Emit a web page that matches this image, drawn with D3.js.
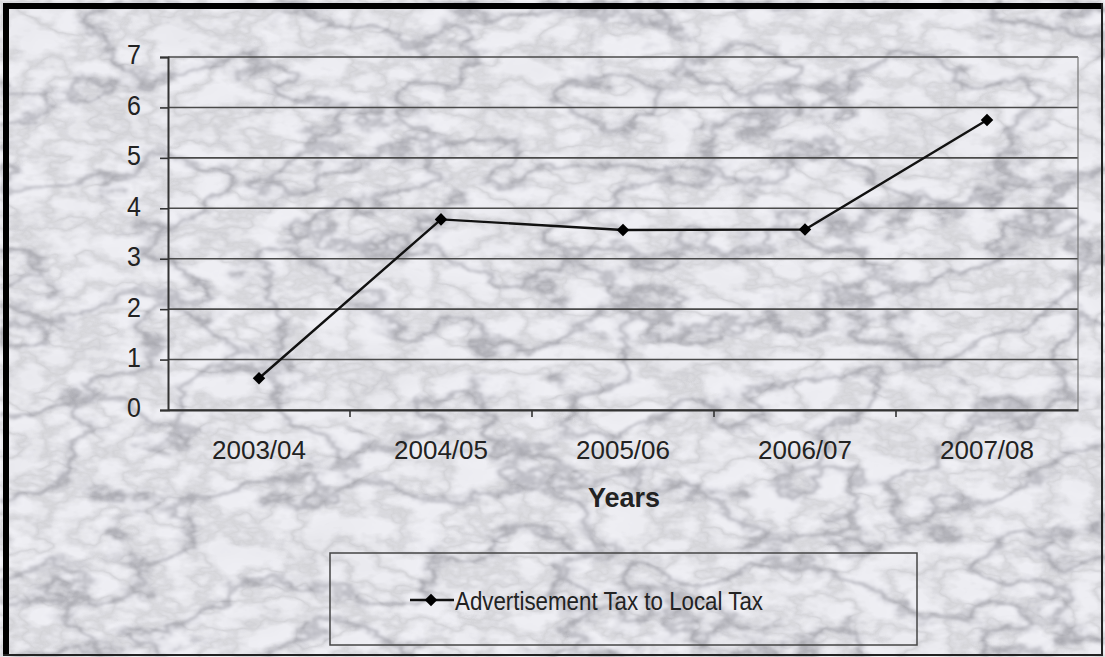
<!DOCTYPE html>
<html><head><meta charset="utf-8">
<script src="https://cdn.jsdelivr.net/npm/d3@7/dist/d3.min.js"></script>
<style>body{margin:0;background:#fff}svg{display:block}</style>
</head><body>
<svg id="c" width="1105" height="657"></svg>
<script>
const categories = ["2003/04","2004/05","2005/06","2006/07","2007/08"];
const values = [0.63, 3.78, 3.57, 3.58, 5.75];
const yTicks = [0,1,2,3,4,5,6,7];
const seriesName = "Advertisement Tax to Local Tax";
const xTitle = "Years";

const svg = d3.select("#c");
const W = 1105, H = 657;
const FONT = "Arial, 'Liberation Sans', sans-serif";
const defs = svg.append("defs");

// marble texture
const f = defs.append("filter").attr("id","marble").attr("x",0).attr("y",0).attr("width","100%").attr("height","100%")
  .attr("color-interpolation-filters","sRGB");
f.append("feTurbulence").attr("type","fractalNoise").attr("baseFrequency","0.007 0.012").attr("numOctaves",6).attr("seed",11).attr("result","n");
f.append("feColorMatrix").attr("in","n").attr("type","matrix")
 .attr("values","1 0 0 0 0  1 0 0 0 0  1 0 0 0 0  0 0 0 0 1").attr("result","g1");
const ct = f.append("feComponentTransfer").attr("in","g1").attr("result","v0");
function tbl(lo, hi, n){ // light everywhere, narrow dark dip at the middle
  const a=[]; for(let i=0;i<n;i++){const t=Math.abs(i-(n-1)/2); a.push(t<0.5?lo:(t<1.5?(lo+hi)/2+0.05:hi-0.003*t));} return a.join(" ");
}
ct.append("feFuncR").attr("type","table").attr("tableValues",tbl(0.74,0.945,31));
ct.append("feFuncG").attr("type","table").attr("tableValues",tbl(0.74,0.945,31));
ct.append("feFuncB").attr("type","table").attr("tableValues",tbl(0.77,0.965,31));
f.append("feGaussianBlur").attr("in","v0").attr("stdDeviation",0.8).attr("result","v1");
f.append("feTurbulence").attr("type","fractalNoise").attr("baseFrequency","0.02 0.035").attr("numOctaves",4).attr("seed",3).attr("result","n2");
f.append("feColorMatrix").attr("in","n2").attr("type","matrix")
 .attr("values","1 0 0 0 0  1 0 0 0 0  1 0 0 0 0  0 0 0 0 1").attr("result","g2");
const ct2 = f.append("feComponentTransfer").attr("in","g2").attr("result","v2");
const tv2 = "1.04 1.04 1.03 1.01 0.97 0.9 0.97 1.01 1.03 1.04 1.04";
ct2.append("feFuncR").attr("type","table").attr("tableValues",tv2);
ct2.append("feFuncG").attr("type","table").attr("tableValues",tv2);
ct2.append("feFuncB").attr("type","table").attr("tableValues",tv2);
f.append("feBlend").attr("in","v1").attr("in2","v2").attr("mode","multiply");

svg.append("rect").attr("x",0).attr("y",0).attr("width",W).attr("height",H).attr("fill","#eee").attr("filter","url(#marble)");

// frame
svg.append("line").attr("x1",6).attr("y1",3).attr("x2",6).attr("y2",656).attr("stroke","#000").attr("stroke-width",6);
svg.append("line").attr("x1",3).attr("y1",6).attr("x2",1103).attr("y2",6).attr("stroke","#000").attr("stroke-width",6);
svg.append("line").attr("x1",1102).attr("y1",3).attr("x2",1102).attr("y2",656).attr("stroke","#222").attr("stroke-width",2);
svg.append("line").attr("x1",3).attr("y1",655).attr("x2",1103).attr("y2",655).attr("stroke","#222").attr("stroke-width",2);

const L = 168, R = 1078, T = 57, B = 410;
const x = d3.scaleBand().domain(categories).range([L,R]).padding(0);
const y = d3.scaleLinear().domain([0,7]).range([B,T]);

// gridlines
svg.append("g").selectAll("line").data(yTicks).join("line")
 .attr("x1",L).attr("x2",R).attr("y1",d=>y(d)).attr("y2",d=>y(d))
 .attr("stroke","#4a4a4a").attr("stroke-width",1.6);
svg.append("line").attr("x1",R).attr("x2",R).attr("y1",T).attr("y2",B).attr("stroke","#777").attr("stroke-width",1.2);

// y axis
const ya = svg.append("g").attr("transform",`translate(${L},0)`)
 .call(d3.axisLeft(y).tickValues(yTicks).tickSize(8).tickPadding(19).tickFormat(d3.format("d")));
ya.select(".domain").attr("stroke","#333").attr("stroke-width",2);
ya.selectAll(".tick line").attr("stroke","#333").attr("stroke-width",1.6);
ya.selectAll(".tick text").attr("font-family",FONT).attr("font-size",25).attr("fill","#222")
 .attr("dy","0.32em").attr("transform","translate(0,-2) scale(1,1.12)");

// x axis
const xa = svg.append("g").attr("transform",`translate(0,${B})`)
 .call(d3.axisBottom(x).tickSize(0).tickPadding(30));
xa.select(".domain").attr("stroke","#333").attr("stroke-width",2);
xa.selectAll(".tick text").attr("font-family",FONT).attr("font-size",26).attr("fill","#222")
 .attr("dy","0.71em").attr("y",31);
svg.append("g").selectAll("line").data(categories.slice(1)).join("line")
 .attr("x1",d=>x(d)).attr("x2",d=>x(d)).attr("y1",B).attr("y2",B+7)
 .attr("stroke","#333").attr("stroke-width",1.6);

svg.append("text").attr("x",(L+R)/2+1).attr("y",507).attr("text-anchor","middle")
 .attr("font-family",FONT).attr("font-size",27).attr("font-weight","bold").attr("fill","#222").text(xTitle);

// series
const pts = categories.map((c,i)=>({c, v: values[i]}));
svg.append("path").datum(pts)
 .attr("d", d3.line().x(d=>x(d.c)+x.bandwidth()/2).y(d=>y(d.v)))
 .attr("fill","none").attr("stroke","#111").attr("stroke-width",2.4);
const diamond = d3.symbol().type(d3.symbolDiamond2).size(100);
svg.append("g").selectAll("path").data(pts).join("path")
 .attr("d", diamond)
 .attr("transform", d=>`translate(${x(d.c)+x.bandwidth()/2},${y(d.v)})`)
 .attr("fill","#000");

// legend
const lg = svg.append("g");
lg.append("rect").attr("x",330).attr("y",553).attr("width",587).attr("height",92)
 .attr("fill","none").attr("stroke","#444").attr("stroke-width",1.5);
lg.append("line").attr("x1",410).attr("x2",454).attr("y1",600).attr("y2",600).attr("stroke","#111").attr("stroke-width",2.4);
lg.append("path").attr("d",diamond).attr("transform","translate(431,600)").attr("fill","#000");
lg.append("text").attr("x",455).attr("y",610).attr("font-family",FONT)
 .attr("font-size",26).attr("fill","#222").attr("textLength",308).attr("lengthAdjust","spacingAndGlyphs").text(seriesName);
</script>
</body></html>
